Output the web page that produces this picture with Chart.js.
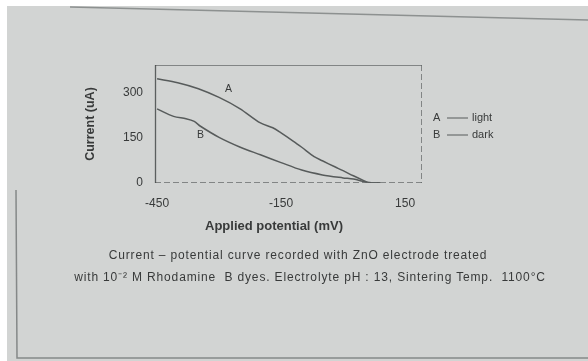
<!DOCTYPE html>
<html>
<head>
<meta charset="utf-8">
<script src="https://cdn.jsdelivr.net/npm/chart.js@4.4.1/dist/chart.umd.min.js"></script>
<style>
  html, body { margin: 0; padding: 0; background: #ffffff; }
  #wrap { position: relative; width: 588px; height: 361px; overflow: hidden; }
  #chart { position: absolute; left: 0; top: 0; }
  .cap { position: absolute; text-align: center;
         font-family: "Liberation Sans", Arial, sans-serif; font-size: 12px;
         letter-spacing: 0.85px; color: #383a3a; white-space: pre; }
</style>
</head>
<body>
<div id="wrap">
  <canvas id="chart" width="588" height="361"></canvas>
  <div class="cap" style="top:248px; left:98px; width:400px">Current – potential curve recorded with ZnO electrode treated</div>
  <div class="cap" style="top:268px; left:40px; width:540px">with 10⁻² M Rhodamine  B dyes. Electrolyte pH : 13, Sintering Temp.  1100°C</div>
</div>
<script>
// Curve A (light): applied potential (mV) and current (uA)
const lightPotential = [-450, -400, -350, -300, -250, -200, -170, -150, -120, -100, -70, -50, -20, 0, 25, 50, 60, 90];
const lightCurrent   = [347, 334, 314, 285, 248, 200, 184, 167, 139, 119, 88, 74, 54, 41, 24, 8, 2, 0];

// Curve B (dark)
const darkPotential = [-450, -410, -380, -360, -345, -300, -250, -200, -150, -100, -50, 0, 25, 50, 60, 90];
const darkCurrent   = [247, 222, 214, 205, 189, 152, 120, 94, 68, 43, 27, 17, 13, 5, 2, 0];

const xTickValues = [-450, -150, 150];
const yTickValues = [0, 150, 300];

const seriesNames = ['A', 'B'];
const legendWords = ['light', 'dark'];
const xAxisTitle = 'Applied potential (mV)';

const ink = '#383a3a';
const lineInk = '#575b5b';
const fontFam = '"Liberation Sans", Arial, sans-serif';

function pts(xs, ys) { return xs.map((x, i) => ({ x: x, y: ys[i] })); }

// paper background and page rules
const paperPlugin = {
  id: 'paper',
  beforeDraw(chart) {
    const c = chart.ctx;
    c.save();
    c.fillStyle = '#ffffff';
    c.fillRect(0, 0, 588, 361);
    c.fillStyle = '#d2d4d3';
    c.fillRect(7, 6, 581, 355);
    c.strokeStyle = 'rgba(95,100,100,0.6)';
    c.lineWidth = 1.5;
    c.beginPath(); c.moveTo(70, 7); c.lineTo(588, 20); c.stroke();
    c.strokeStyle = 'rgba(100,104,104,0.7)';
    c.beginPath(); c.moveTo(16, 190); c.lineTo(17, 358); c.lineTo(588, 358); c.stroke();
    c.restore();
  }
};

// plot frame, in-plot curve names, axis title and the side key
const framePlugin = {
  id: 'frame',
  afterDraw(chart) {
    const c = chart.ctx, a = chart.chartArea;
    const xs = chart.scales.x, ys = chart.scales.y;
    c.save();
    c.strokeStyle = 'rgba(95,100,100,0.7)';
    c.lineWidth = 1;
    c.beginPath(); c.moveTo(a.left, a.top + 0.5); c.lineTo(a.right, a.top + 0.5); c.stroke();
    c.setLineDash([6, 3]);
    c.beginPath(); c.moveTo(a.right - 0.5, a.top); c.lineTo(a.right - 0.5, a.bottom); c.stroke();
    c.beginPath(); c.moveTo(a.left, a.bottom - 0.5); c.lineTo(a.right, a.bottom - 0.5); c.stroke();
    c.setLineDash([]);
    c.strokeStyle = 'rgba(70,74,74,0.85)';
    c.lineWidth = 1.3;
    c.beginPath(); c.moveTo(a.left + 0.5, a.top); c.lineTo(a.left + 0.5, a.bottom); c.stroke();

    c.fillStyle = ink;
    c.font = '10.5px ' + fontFam;
    c.textAlign = 'center';
    c.textBaseline = 'middle';
    c.fillText(seriesNames[0], xs.getPixelForValue(-277), ys.getPixelForValue(313));
    c.fillText(seriesNames[1], xs.getPixelForValue(-345), ys.getPixelForValue(160));

    c.font = 'bold 13px ' + fontFam;
    c.fillText(xAxisTitle, 274, 226);

    c.font = '11px ' + fontFam;
    c.textAlign = 'left';
    [118, 135].forEach((y, i) => {
      c.fillText(seriesNames[i], 433, y);
      c.strokeStyle = lineInk;
      c.lineWidth = 1;
      c.beginPath(); c.moveTo(447, y); c.lineTo(468, y); c.stroke();
      c.fillText(legendWords[i], 472, y);
    });
    c.restore();
  }
};

new Chart(document.getElementById('chart'), {
  type: 'line',
  data: {
    datasets: [
      { label: 'A', data: pts(lightPotential, lightCurrent), borderColor: lineInk, borderWidth: 1.5,
        pointRadius: 0, tension: 0.3, fill: false },
      { label: 'B', data: pts(darkPotential, darkCurrent), borderColor: lineInk, borderWidth: 1.5,
        pointRadius: 0, tension: 0.3, fill: false }
    ]
  },
  options: {
    responsive: false,
    animation: false,
    devicePixelRatio: 1,
    layout: { padding: { left: 80, top: 65, right: 166, bottom: 125 } },
    plugins: { legend: { display: false }, tooltip: { enabled: false } },
    scales: {
      x: {
        type: 'linear', min: -455, max: 191,
        grid: { display: false, drawTicks: false },
        border: { display: false },
        afterBuildTicks: s => { s.ticks = xTickValues.map(v => ({ value: v })); },
        afterFit: s => { s.height = 53; },
        ticks: { padding: 13, color: ink, font: { family: fontFam, size: 12 }, maxRotation: 0,
                 callback: v => String(v) },
        title: { display: false }
      },
      y: {
        type: 'linear', min: 0, max: 393,
        grid: { display: false, drawTicks: false },
        border: { display: false },
        afterBuildTicks: s => { s.ticks = yTickValues.map(v => ({ value: v })); },
        afterFit: s => { s.width = 75; },
        ticks: { padding: 12, color: ink, font: { family: fontFam, size: 12 },
                 callback: v => String(v) },
        title: { display: true, text: 'Current (uA)', color: ink, padding: 3,
                 font: { family: fontFam, size: 12.5, weight: 'bold' } }
      }
    }
  },
  plugins: [paperPlugin, framePlugin]
});
</script>
</body>
</html>
